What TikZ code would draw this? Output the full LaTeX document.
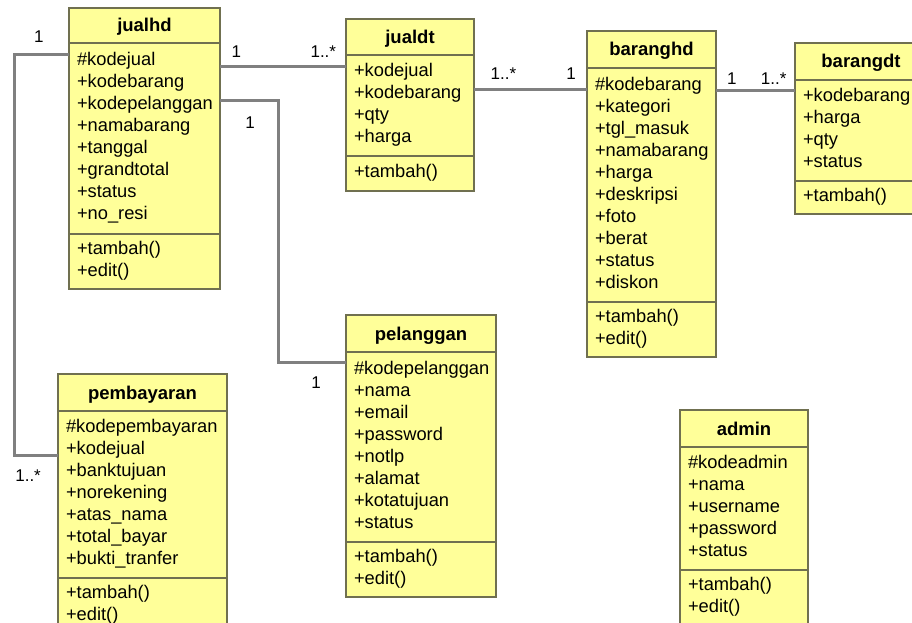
\documentclass[tikz,border=0pt]{standalone}
\usepackage{fontspec}
\setmainfont{Liberation Sans}
\usetikzlibrary{positioning}
\definecolor{classfill}{RGB}{255,255,153}
\definecolor{classline}{RGB}{112,112,80}
\definecolor{assocline}{RGB}{128,128,128}

\begin{document}
\begin{tikzpicture}[x=1pt, y=-1pt,
    every node/.style={outer sep=0pt},
    head/.style={draw=classline, line width=2pt, fill=classfill, inner sep=0pt,
      font=\fontsize{18.5}{22}\selectfont\bfseries, text height=13pt, text depth=0pt},
    body/.style={draw=classline, line width=2pt, fill=classfill, align=left,
      inner xsep=8pt, inner ysep=0pt, font=\fontsize{18.3}{22}\selectfont,
      execute at begin node=\strut, execute at end node=\strut},
    assoc/.style={draw=assocline, line width=3pt},
    mult/.style={font=\fontsize{17}{19}\selectfont, inner sep=0pt}]
	\useasboundingbox (0,0) rectangle (912,623);
	\clip (0,0) rectangle (912,623);

	% jualhd
	\node [head, minimum width=151pt, minimum height=35pt, anchor=north west] (jualhd) at (69, 8) {jualhd};
	\node [body, text width=135pt, minimum height=191pt, below=0pt of jualhd] (jualhdA)
	  {\#kodejual\\+kodebarang\\+kodepelanggan\\+namabarang\\+tanggal\\+grandtotal\\+status\\+no\_resi};
	\node [body, text width=135pt, minimum height=55pt, below=0pt of jualhdA] (jualhdM) {+tambah()\\+edit()};

	% jualdt
	\node [head, minimum width=128pt, minimum height=36pt, anchor=north west] (jualdt) at (346, 19) {jualdt};
	\node [body, text width=112pt, minimum height=101pt, below=0pt of jualdt] (jualdtA)
	  {+kodejual\\+kodebarang\\+qty\\+harga};
	\node [body, text width=112pt, minimum height=35pt, below=0pt of jualdtA] (jualdtM) {+tambah()};

	% baranghd
	\node [head, minimum width=129pt, minimum height=37pt, anchor=north west] (baranghd) at (587, 31) {baranghd};
	\node [body, text width=113pt, minimum height=234pt, below=0pt of baranghd] (baranghdA)
	  {\#kodebarang\\+kategori\\+tgl\_masuk\\+namabarang\\+harga\\+deskripsi\\+foto\\+berat\\+status\\+diskon};
	\node [body, text width=113pt, minimum height=55pt, below=0pt of baranghdA] (baranghdM) {+tambah()\\+edit()};

	% barangdt
	\node [head, minimum width=132pt, minimum height=37pt, anchor=north west] (barangdt) at (795, 43) {barangdt};
	\node [body, text width=116pt, minimum height=101pt, below=0pt of barangdt] (barangdtA)
	  {+kodebarang\\+harga\\+qty\\+status};
	\node [body, text width=116pt, minimum height=33pt, below=0pt of barangdtA] (barangdtM) {+tambah()};

	% pelanggan
	\node [head, minimum width=150pt, minimum height=37pt, anchor=north west] (pelanggan) at (346, 315) {pelanggan};
	\node [body, text width=134pt, minimum height=190pt, below=0pt of pelanggan] (pelangganA)
	  {\#kodepelanggan\\+nama\\+email\\+password\\+notlp\\+alamat\\+kotatujuan\\+status};
	\node [body, text width=134pt, minimum height=55pt, below=0pt of pelangganA] (pelangganM) {+tambah()\\+edit()};

	% pembayaran
	\node [head, minimum width=169pt, minimum height=37pt, anchor=north west] (pembayaran) at (58, 374) {pembayaran};
	\node [body, text width=153pt, minimum height=167pt, below=0pt of pembayaran] (pembayaranA)
	  {\#kodepembayaran\\+kodejual\\+banktujuan\\+norekening\\+atas\_nama\\+total\_bayar\\+bukti\_tranfer};
	\node [body, text width=153pt, minimum height=55pt, below=0pt of pembayaranA] (pembayaranM) {+tambah()\\+edit()};

	% admin
	\node [head, minimum width=128pt, minimum height=37pt, anchor=north west] (admin) at (680, 410) {admin};
	\node [body, text width=112pt, minimum height=123pt, below=0pt of admin] (adminA)
	  {\#kodeadmin\\+nama\\+username\\+password\\+status};
	\node [body, text width=112pt, minimum height=55pt, below=0pt of adminA] (adminM) {+tambah()\\+edit()};

	% associations
	\draw [assoc] ([yshift=-24pt]jualhdA.north east) -- node [mult, above=9pt, pos=0.13] {1}
	                           node [mult, above=9pt, pos=0.82] {1..*} ([yshift=-12pt]jualdtA.north west);
	\draw [assoc] ([yshift=-58pt]jualhdA.north east) -- node [mult, below=16pt, pos=0.52] {1} ++(58pt,0pt)
	                           |- node [mult, below=15pt, pos=0.78] {1} ([yshift=-10pt]pelangganA.north west);
	\draw [assoc] ([yshift=-12pt]jualhdA.north west) -- node [mult, above=12pt, pos=0.55] {1} ++(-55pt,0pt)
	                           |- node [mult, below=15pt, pos=0.66] {1..*} ([yshift=-44pt]pembayaranA.north west);
	\draw [assoc] ([yshift=-35pt]jualdtA.north east) -- node [mult, above=10pt, pos=0.26] {1..*}
	                           node [mult, above=10pt, pos=0.86] {1} ([yshift=-22pt]baranghdA.north west);
	\draw [assoc] ([yshift=-23pt]baranghdA.north east) -- node [mult, above=6pt, pos=0.2] {1}
	                           node [mult, above=6pt, pos=0.73] {1..*} ([yshift=-11pt]barangdtA.north west);
\end{tikzpicture}
\end{document}
